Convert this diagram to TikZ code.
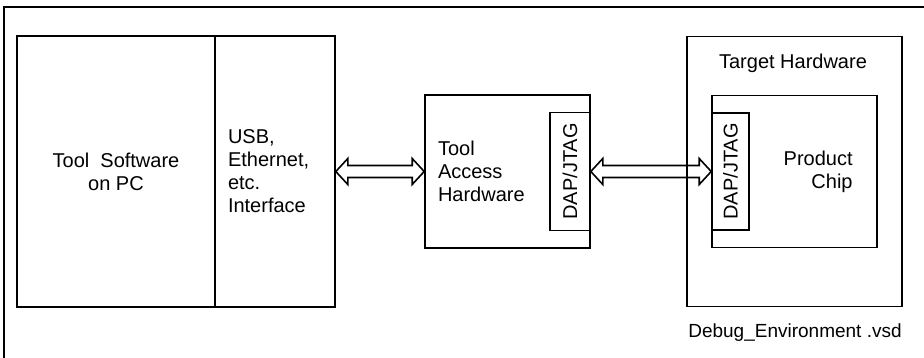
\documentclass[tikz,border=0pt]{standalone}
\usepackage{fontspec}
\setmainfont{Liberation Sans}
\usetikzlibrary{calc}
% double headed block arrow between two anchors
\newcommand{\busarrow}[2]{%
  \draw[bus] (#1) -- ++(12,-13) -- ++(0,7) -- ($(#2)+(-12,-6)$) -- ++(0,-7) -- (#2)
    -- ++(-12,13) -- ++(0,-7) -- ($(#1)+(12,6)$) -- ++(0,7) -- cycle;}

\begin{document}
\begin{tikzpicture}[x=1pt, y=-1pt,
  font=\fontsize{20}{23}\selectfont,
  box/.style={draw, line width=1.6pt, inner sep=0pt},
  dapbox/.style={box, rotate=90, minimum width=118pt, minimum height=40pt},
  bus/.style={line width=1.6pt, line join=miter},
  frame/.style={line width=1.3pt}]
  \useasboundingbox (0,0) rectangle (924,358);
  \draw[frame] (4,358) -- (4,7) -- (924,7);

  \node[box, minimum width=198pt, minimum height=271pt, align=center] (pc) at (116,171.5) {Tool\ \ Software\\on PC};
  \node[box, minimum height=271pt, text width=94pt, inner xsep=13pt, align=left] (iface) at (275,171.5) {USB,\\Ethernet,\\etc.\\Interface};

  \node[box, minimum height=153pt, text width=139pt, inner xsep=13pt, align=left] (tah) at (507.5,171.5) {Tool\\Access\\Hardware};
  \node[dapbox, anchor=south] (tahdap) at (tah.east) {DAP/JTAG};

  \node[box, minimum width=215pt, minimum height=270pt] (target) at (794.5,171.5) {};
  \node (targetlbl) at (793,63) {Target Hardware};
  \node[box, minimum width=165pt, minimum height=152pt] (chip) at (794.5,171.5) {};
  \node[dapbox, minimum width=117pt, minimum height=37pt, anchor=north] (chipdap) at (chip.west) {DAP/JTAG};
  \node[align=right, anchor=east, inner sep=0pt] (chiptxt) at ([xshift=-25pt]chip.east) {Product\\Chip};

  \busarrow{iface.east}{tah.west}
  \busarrow{tahdap.south}{chipdap.north}

  \node[font=\fontsize{19}{22}\selectfont] (vsd) at (795,333) {Debug\_Environment .vsd};
\end{tikzpicture}
\end{document}
